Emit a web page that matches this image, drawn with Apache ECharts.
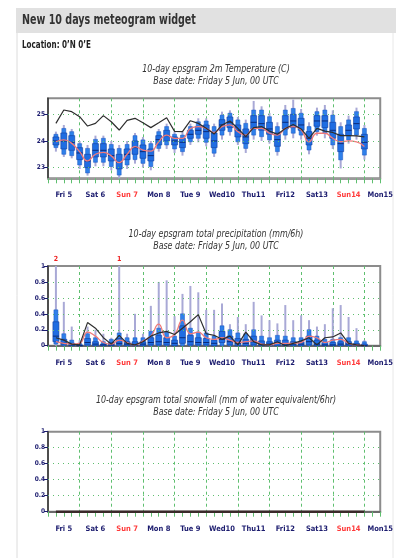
<!DOCTYPE html>
<html>
<head>
<meta charset="utf-8">
<script src="https://cdn.jsdelivr.net/npm/echarts@6/dist/echarts.min.js"></script>
<style>
html,body{margin:0;padding:0;background:#fff;}
#c{width:396px;height:558px;}
</style>
</head>
<body>
<div id="c"></div>
<script>
// ---------- data ----------
var hours = [6,12,18,24,30,36,42,48,54,60,66,72,78,84,90,96,102,108,114,120,
             126,132,138,144,150,156,162,168,174,180,186,192,198,204,210,216,222,228,234,240];
var dayLabels = ['Fri 5','Sat 6','Sun 7','Mon 8','Tue 9','Wed10','Thu11','Fri12','Sat13','Sun14','Mon15'];
var dayLabelHours = [12,36,60,84,108,132,156,180,204,228,252];
var tempTicks = [23,24,25];
var precipTicks = [0,0.2,0.4,0.6,0.8,1];

// 2m temperature ensemble: min, p10, p25, median, p75, p90, max
var tMin = [23.6,23.4,23.35,22.95,22.7,23.05,23.05,22.9,22.6,22.95,23.15,23.0,22.9,23.6,23.7,23.55,23.45,23.85,23.95,23.8,
            23.4,24.05,24.2,23.85,23.55,24.05,24.0,23.9,23.45,24.05,24.1,24.05,23.5,24.2,24.1,23.7,22.97,23.9,24.05,23.3];
var t10  = [23.75,23.5,23.45,23.1,22.8,23.2,23.2,23.04,22.72,23.1,23.3,23.16,23.04,23.72,23.85,23.7,23.6,23.97,24.1,23.95,
            23.54,24.22,24.35,23.97,23.72,24.22,24.16,24.04,23.6,24.22,24.29,24.22,23.66,24.35,24.29,23.85,23.29,24.04,24.22,23.47];
var t25  = [23.85,23.7,23.65,23.3,23.0,23.4,23.4,23.25,22.95,23.3,23.5,23.35,23.25,23.85,24.0,23.85,23.75,24.1,24.25,24.1,
            23.75,24.4,24.5,24.15,23.9,24.45,24.4,24.25,23.8,24.45,24.5,24.4,23.85,24.55,24.5,24.1,23.6,24.2,24.45,23.7];
var t50  = [24.0,24.0,23.95,23.55,23.25,23.65,23.65,23.45,23.2,23.5,23.75,23.6,23.45,24.05,24.2,24.0,23.95,24.25,24.4,24.35,
            24.0,24.6,24.7,24.4,24.15,24.7,24.65,24.45,24.05,24.7,24.75,24.6,24.1,24.75,24.75,24.4,23.9,24.4,24.65,23.95];
var t75  = [24.15,24.3,24.2,23.75,23.5,23.9,23.9,23.7,23.5,23.7,24.0,23.85,23.7,24.2,24.4,24.15,24.1,24.4,24.55,24.6,
            24.3,24.8,24.9,24.6,24.45,24.95,24.95,24.7,24.3,24.95,25.0,24.85,24.35,24.95,24.95,24.7,24.25,24.6,24.9,24.25];
var t90  = [24.25,24.47,24.35,23.9,23.72,24.06,24.1,23.87,23.72,23.87,24.2,24.04,23.9,24.35,24.54,24.25,24.22,24.54,24.72,24.75,
            24.54,24.97,25.04,24.79,24.66,25.16,25.16,24.91,24.54,25.16,25.22,25.04,24.54,25.1,25.16,24.97,24.54,24.79,25.1,24.47];
var tMax = [24.35,24.6,24.45,24.0,23.85,24.2,24.2,24.0,23.85,24.0,24.3,24.15,24.0,24.45,24.65,24.35,24.35,24.65,24.85,24.85,
            24.65,25.1,25.15,24.9,24.8,25.5,25.3,25.05,24.7,25.35,25.55,25.2,24.7,25.25,25.35,25.15,24.7,24.95,25.25,24.6];
var tempHres = [24.66,25.16,25.1,24.91,24.56,24.66,24.95,24.72,24.41,24.77,24.85,24.68,24.5,24.68,24.87,24.36,24.35,24.76,24.66,24.48,
                24.26,24.6,24.75,24.47,24.16,24.5,24.54,24.37,24.25,24.47,24.62,24.45,24.1,24.47,24.37,24.32,24.2,24.2,24.19,24.15];
var tempControl = [23.97,24.04,23.91,23.6,23.25,23.5,23.57,23.44,23.19,23.5,23.79,23.66,23.62,23.97,24.22,24.1,24.1,24.47,24.54,24.47,
                   24.32,24.54,24.6,24.35,24.22,24.47,24.47,24.29,24.22,24.47,24.54,24.41,23.97,24.29,24.29,24.1,23.97,24.0,23.97,23.79];

// total precipitation (mm/6h) ensemble
var pMin = [0,0,0,0,0,0,0,0,0,0,0,0,0,0,0,0,0,0,0,0,0,0,0,0,0,0,0,0,0,0,0,0,0,0,0,0,0,0,0,0];
var p10  = [0.02,0,0,0,0,0,0,0,0,0,0,0,0,0,0,0,0,0,0,0,0,0,0,0,0,0,0,0,0,0,0,0,0,0,0,0,0,0,0,0];
var p25  = [0.05,0.01,0,0,0.01,0,0,0,0.01,0,0,0,0.01,0.01,0.01,0,0.03,0.01,0.01,0.01,
            0,0.04,0.01,0,0,0.01,0,0,0,0,0,0,0.01,0,0,0,0,0,0,0];
var p50  = [0.12,0.03,0.01,0,0.04,0.02,0.01,0.01,0.03,0.02,0.01,0.02,0.04,0.05,0.04,0.03,0.1,0.05,0.04,0.04,
            0.03,0.08,0.05,0.03,0.03,0.05,0.02,0.02,0.03,0.02,0.02,0.02,0.05,0.02,0.01,0.01,0.02,0.02,0.01,0];
var p75  = [0.3,0.08,0.03,0.01,0.09,0.05,0.02,0.04,0.09,0.05,0.05,0.05,0.1,0.13,0.1,0.07,0.25,0.13,0.1,0.09,
            0.07,0.18,0.12,0.09,0.08,0.12,0.06,0.05,0.07,0.07,0.05,0.05,0.12,0.07,0.04,0.04,0.05,0.05,0.03,0.02];
var p90  = [0.45,0.15,0.07,0.03,0.15,0.1,0.05,0.08,0.16,0.1,0.1,0.1,0.18,0.22,0.17,0.12,0.4,0.22,0.17,0.16,
            0.12,0.25,0.2,0.16,0.15,0.2,0.12,0.1,0.13,0.12,0.1,0.1,0.2,0.12,0.08,0.08,0.1,0.1,0.06,0.05];
var pMax = [2.2,0.55,0.24,0.07,0.24,0.2,0.15,0.1,1.3,0.15,0.4,0.15,0.5,0.8,0.82,0.37,0.65,0.75,0.67,0.45,
            0.45,0.53,0.27,0.36,0.27,0.55,0.38,0.32,0.28,0.51,0.32,0.38,0.32,0.24,0.27,0.47,0.51,0.36,0.22,0.07];
var precipHres = [0.1,0.07,0.02,0.01,0.29,0.22,0.1,0.02,0.13,0.03,0.01,0.05,0.12,0.16,0.18,0.14,0.22,0.3,0.39,0.15,
                  0.13,0.08,0.12,0.01,0.17,0.05,0.01,0.01,0.05,0,0.03,0.06,0.1,0.01,0.1,0.11,0.16,0.03,0.01,0];
var precipControl = [0.05,0.03,0.02,0.03,0.17,0.12,0.04,0.02,0.07,0.04,0.01,0.06,0.12,0.27,0.1,0.14,0.32,0.15,0.17,0.1,
                     0.08,0.1,0.07,0.04,0.05,0.06,0.02,0.01,0.03,0.03,0.03,0.04,0.12,0.1,0.04,0.07,0.08,0.03,0.01,0];

// total snowfall (mm of water equivalent/6hr)
var snowHres = [0,0,0,0,0,0,0,0,0,0,0,0,0,0,0,0,0,0,0,0,0,0,0,0,0,0,0,0,0,0,0,0,0,0,0,0,0,0,0,0];

// ---------- helpers ----------
var FONT = '"Liberation Sans Narrow","DejaVu Sans Condensed","Liberation Sans",sans-serif';
var NAVY = '#1b1b6e';
var GREEN = '#5fbf6f';

function zip(xs, ys) { return xs.map(function (x, i) { return [x, ys[i]]; }); }
function boxRows(a, b, c, d, e, f, g) {
  return hours.map(function (h, i) { return [h, a[i], b[i], c[i], d[i], e[i], f[i], g[i]]; });
}

function boxRenderer(capValue) {
  return function (params, api) {
    var cs = params.coordSys;
    var hv = api.value(0);
    var x = api.coord([hv, 0])[0];
    function Y(i) {
      var y = api.coord([hv, api.value(i)])[1];
      return Math.max(cs.y, Math.min(cs.y + cs.height, y));
    }
    var yMin = Y(1), y10 = Y(2), y25 = Y(3), y50 = Y(4), y75 = Y(5), y90 = Y(6), yMax = Y(7);
    var kids = [
      { type: 'rect', shape: { x: x - 1, y: yMax, width: 2, height: Math.max(0.5, yMin - yMax) },
        style: { fill: '#a9a9d6' } },
      { type: 'rect', shape: { x: x - 2, y: y90, width: 4, height: Math.max(0.5, y10 - y90) },
        style: { fill: '#2f80ea', stroke: '#1b55c0', lineWidth: 0.5 } },
      { type: 'rect', shape: { x: x - 3, y: y75, width: 6, height: Math.max(0.5, y25 - y75) },
        style: { fill: '#1f6de2', stroke: '#123f9f', lineWidth: 0.6 } },
      { type: 'line', shape: { x1: x - 3, y1: y50, x2: x + 3, y2: y50 },
        style: { stroke: '#0b2a78', lineWidth: 1 } }
    ];
    if (capValue != null && api.value(7) > capValue) {
      kids.push({ type: 'text', style: { text: String(Math.round(api.value(7))), x: x, y: cs.y - 7,
        fill: '#e22', font: 'bold 7px ' + FONT, align: 'center', verticalAlign: 'middle' } });
    }
    return { type: 'group', children: kids };
  };
}

function xAxisFor(gi, lineColor) {
  return {
    type: 'value', gridIndex: gi, min: 0, max: 252, interval: 24,
    axisLine: { show: true, onZero: false, lineStyle: { color: lineColor, width: 2 } },
    axisTick: { show: true, length: 5, lineStyle: { color: GREEN, width: 1 } },
    minorTick: { show: true, splitNumber: 4, length: 5, lineStyle: { color: GREEN, width: 1 } },
    splitLine: { show: true, showMinLine: false, showMaxLine: false,
      lineStyle: { color: GREEN, width: 1, type: [3, 3] } },
    axisLabel: {
      customValues: dayLabelHours, margin: 13, fontFamily: FONT, fontSize: 7.5, fontWeight: 'bold', color: NAVY,
      formatter: function (v) {
        var lab = dayLabels[dayLabelHours.indexOf(v)] || '';
        return lab.indexOf('Sun') === 0 ? '{s|' + lab + '}' : lab;
      },
      rich: { s: { color: '#ff3b3b', fontFamily: FONT, fontSize: 7.5, fontWeight: 'bold' } }
    }
  };
}

function yAxisFor(gi, min, max, ticks, fmt) {
  return {
    type: 'value', gridIndex: gi, min: min, max: max,
    axisLine: { show: true, lineStyle: { color: '#3a3a3a', width: 1.5 } },
    axisTick: { show: true, customValues: ticks, length: 4, lineStyle: { color: NAVY, width: 1 } },
    splitLine: { show: false },
    axisLabel: { customValues: ticks, margin: 3, fontFamily: FONT, fontSize: 6.5, fontWeight: 'bold', color: NAVY,
      formatter: fmt }
  };
}

function gridLines(gi, ticks) {
  return {
    type: 'line', xAxisIndex: gi, yAxisIndex: gi, data: [], silent: true,
    markLine: { symbol: 'none', silent: true, label: { show: false },
      lineStyle: { color: GREEN, width: 1, type: [1, 4] },
      data: ticks.map(function (t) { return { yAxis: t }; }) }
  };
}

function titleText(txt, y) {
  return { type: 'text', x: 216, y: y, scaleX: 0.8, silent: true,
    style: { text: txt, fill: '#333', font: 'italic 11px ' + FONT, align: 'center', verticalAlign: 'middle' } };
}

var grids = [
  { left: 48, top: 98.3, width: 334.5, height: 80 },
  { left: 48, top: 266, width: 334.5, height: 79.7 },
  { left: 48, top: 431.7, width: 334.5, height: 80 }
];
grids.forEach(function (g) { g.show = true; g.borderColor = '#8c8c8c'; g.borderWidth = 2; g.backgroundColor = '#fff'; });

var option = {
  animation: false,
  backgroundColor: '#fff',
  graphic: [
    { type: 'rect', shape: { x: 16, y: 8, width: 380, height: 25 }, style: { fill: '#e1e1e1' }, z: -1 },
    { type: 'line', shape: { x1: 17, y1: 33, x2: 17, y2: 558 }, style: { stroke: '#dcdcdc', lineWidth: 1 } },
    { type: 'line', shape: { x1: 393, y1: 33, x2: 393, y2: 558 }, style: { stroke: '#e8e8e8', lineWidth: 1 } },
    { type: 'text', x: 22, y: 20.5, scaleX: 0.76, style: { text: 'New 10 days meteogram widget', fill: '#333',
        font: 'bold 14px ' + FONT, verticalAlign: 'middle' } },
    { type: 'text', x: 22, y: 45, scaleX: 0.8, style: { text: 'Location: 0\u2019N 0\u2019E', fill: '#222',
        font: 'bold 10px ' + FONT, verticalAlign: 'middle' } },
    titleText('10-day epsgram 2m Temperature (C)', 69),
    titleText('Base date: Friday 5 Jun, 00 UTC', 81),
    titleText('10-day epsgram total precipitation (mm/6h)', 234),
    titleText('Base date: Friday 5 Jun, 00 UTC', 246.5),
    titleText('10-day epsgram total snowfall (mm of water equivalent/6hr)', 400),
    titleText('Base date: Friday 5 Jun, 00 UTC', 412)
  ],
  grid: grids,
  xAxis: [xAxisFor(0, '#9a9a9a'), xAxisFor(1, '#6a6a6a'), xAxisFor(2, '#6a6a6a')],
  yAxis: [
    yAxisFor(0, 22.6, 25.6, tempTicks, function (v) { return String(v); }),
    yAxisFor(1, 0, 1, precipTicks, function (v) { return v === 0 || v === 1 ? String(v) : v.toFixed(1); }),
    yAxisFor(2, 0, 1, precipTicks, function (v) { return v === 0 || v === 1 ? String(v) : v.toFixed(1); })
  ],
  series: [
    gridLines(0, tempTicks.slice()),
    gridLines(1, [0.2, 0.4, 0.6, 0.8]),
    gridLines(2, [0.2, 0.4, 0.6, 0.8]),
    { type: 'custom', xAxisIndex: 0, yAxisIndex: 0, renderItem: boxRenderer(null),
      encode: { x: 0, y: [1, 2, 3, 4, 5, 6, 7] },
      data: boxRows(tMin, t10, t25, t50, t75, t90, tMax), z: 3 },
    { type: 'line', xAxisIndex: 0, yAxisIndex: 0, data: zip(hours, tempControl), smooth: 0.5, showSymbol: false,
      lineStyle: { color: '#f07a7a', width: 1.3 }, z: 4 },
    { type: 'line', xAxisIndex: 0, yAxisIndex: 0, data: zip(hours, tempHres), showSymbol: false,
      lineStyle: { color: '#2e2e2e', width: 1.2 }, z: 5 },
    { type: 'custom', xAxisIndex: 1, yAxisIndex: 1, renderItem: boxRenderer(1),
      encode: { x: 0, y: [1, 2, 3, 4, 5, 6, 7] },
      data: boxRows(pMin, p10, p25, p50, p75, p90, pMax), z: 3 },
    { type: 'line', xAxisIndex: 1, yAxisIndex: 1, data: zip(hours, precipControl), smooth: 0.5, showSymbol: false,
      lineStyle: { color: '#f07a7a', width: 1.3 }, z: 4 },
    { type: 'line', xAxisIndex: 1, yAxisIndex: 1, data: zip(hours, precipHres), showSymbol: false,
      lineStyle: { color: '#2e2e2e', width: 1.2 }, z: 5 },
    { type: 'line', xAxisIndex: 2, yAxisIndex: 2, data: zip(hours, snowHres), showSymbol: false,
      lineStyle: { color: '#3a2a2a', width: 2.5 }, z: 5 }
  ]
};

var chart = echarts.init(document.getElementById('c'), null, { renderer: 'canvas', width: 396, height: 558 });
chart.setOption(option);
</script>
</body>
</html>
